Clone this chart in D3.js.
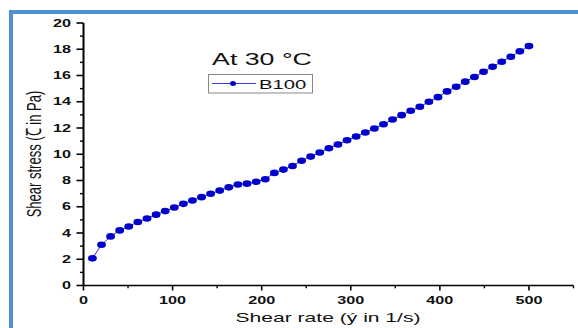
<!DOCTYPE html>
<html><head><meta charset="utf-8">
<script src="https://cdn.jsdelivr.net/npm/d3@7"></script>
<style>html,body{margin:0;padding:0;background:#fff;}svg{display:block;}</style>
</head><body>
<svg id="c" width="578" height="328"></svg>
<script>
const shearRate = [10, 20.2, 30.4, 40.6, 50.8, 61.0, 71.3, 81.5, 91.7, 101.9,
  112.1, 122.3, 132.5, 142.7, 152.9, 163.1, 173.3, 183.5, 193.8, 204.0,
  214.2, 224.4, 234.6, 244.8, 255.0, 265.2, 275.4, 285.6, 295.8, 306.0,
  316.3, 326.5, 336.7, 346.9, 357.1, 367.3, 377.5, 387.7, 397.9, 408.1,
  418.3, 428.5, 438.8, 449.0, 459.2, 469.4, 479.6, 489.8, 500];
const shearStress = [2.07, 3.10, 3.74, 4.20, 4.50, 4.84, 5.10, 5.40, 5.67, 5.94,
  6.22, 6.48, 6.73, 6.99, 7.23, 7.48, 7.70, 7.76, 7.90, 8.10,
  8.58, 8.83, 9.11, 9.50, 9.82, 10.13, 10.46, 10.74, 11.07, 11.35,
  11.66, 11.96, 12.29, 12.65, 12.98, 13.31, 13.62, 14.00, 14.35, 14.79,
  15.14, 15.53, 15.88, 16.29, 16.67, 17.05, 17.43, 17.84, 18.24];
const xTicks = [0, 100, 200, 300, 400, 500];
const xMinor = [50, 150, 250, 350, 450, 550];
const yTicks = [0, 2, 4, 6, 8, 10, 12, 14, 16, 18, 20];
const yMinor = [1, 3, 5, 7, 9, 11, 13, 15, 17, 19];
const seriesName = "B100";
const chartTitle = "At 30 °C";
const xTitle = "Shear rate (ý in 1/s)";
const yTitle = "Shear stress (Ꞇ in Pa)";

const svg = d3.select("#c");
const SX = 1.62;
const font = "'Liberation Sans', Arial, sans-serif";

// frame
svg.append("rect").attr("x", 11).attr("y", 12).attr("width", 640).attr("height", 400)
  .attr("fill", "none").attr("stroke", "#4d8fd0").attr("stroke-width", 4);

const x = d3.scaleLinear().domain([0, 550]).range([83.5, 573.5]);
const y = d3.scaleLinear().domain([0, 20]).range([285.5, 23]);

function stext(px, py, str, size, anchor, weight, rot) {
  return svg.append("text")
    .attr("transform", `translate(${px},${py}) scale(${SX},1)` + (rot ? ` rotate(${rot})` : ""))
    .attr("text-anchor", anchor).attr("font-family", font)
    .attr("font-size", size).attr("font-weight", weight || "normal")
    .attr("fill", "#111").text(str);
}

// axes
const gx = svg.append("g").attr("transform", `translate(0,${y(0)})`);
gx.append("line").attr("x1", x(0)).attr("x2", x(550)).attr("stroke", "#000").attr("stroke-width", 1.6);
gx.selectAll(".mj").data(xTicks).join("line").attr("x1", d => x(d)).attr("x2", d => x(d))
  .attr("y1", 0).attr("y2", 5).attr("stroke", "#000").attr("stroke-width", 1.6);
gx.selectAll(".mn").data(xMinor).join("line").attr("x1", d => x(d)).attr("x2", d => x(d))
  .attr("y1", 0).attr("y2", 2.8).attr("stroke", "#000").attr("stroke-width", 1.4);
xTicks.forEach(d => stext(x(d), y(0) + 18, d3.format("d")(d), 10, "middle", "bold"));

const gy = svg.append("g").attr("transform", `translate(${x(0)},0)`);
gy.append("line").attr("y1", y(0)).attr("y2", y(20)).attr("stroke", "#000").attr("stroke-width", 2);
gy.selectAll(".mj").data(yTicks).join("line").attr("y1", d => y(d)).attr("y2", d => y(d))
  .attr("x1", 0).attr("x2", -7).attr("stroke", "#000").attr("stroke-width", 1.6);
gy.selectAll(".mn").data(yMinor).join("line").attr("y1", d => y(d)).attr("y2", d => y(d))
  .attr("x1", 0).attr("x2", -3.5).attr("stroke", "#000").attr("stroke-width", 1.4);
yTicks.forEach(d => stext(x(0) - 12.5, y(d) + 3.6, String(d), 10, "end", "bold"));

// titles
stext(328, 322, xTitle, 13, "middle", "normal");
stext(41, 154, yTitle, 13, "middle", "normal", -90);
stext(262, 65, chartTitle, 16.5, "middle", "normal");

// series
const data = shearRate.map((d, i) => [d, shearStress[i]]);
svg.append("path").datum(data)
  .attr("d", d3.line().x(d => x(d[0])).y(d => y(d[1])))
  .attr("fill", "none").attr("stroke", "#2a2ae0").attr("stroke-width", 1);
svg.selectAll(".pt").data(data).join("ellipse")
  .attr("cx", d => x(d[0])).attr("cy", d => y(d[1]))
  .attr("rx", 4.4).attr("ry", 3.3).attr("fill", "#0000cd");

// legend
svg.append("rect").attr("x", 208.5).attr("y", 74.5).attr("width", 104).attr("height", 18.5)
  .attr("fill", "#fff").attr("stroke", "#888").attr("stroke-width", 1);
svg.append("line").attr("x1", 212).attr("x2", 256).attr("y1", 83.5).attr("y2", 83.5)
  .attr("stroke", "#3a3aee").attr("stroke-width", 1);
svg.append("ellipse").attr("cx", 233).attr("cy", 83.5).attr("rx", 3).attr("ry", 2.5).attr("fill", "#0000cd");
stext(259, 89, seriesName, 12.5, "start", "normal");
</script>
</body></html>
